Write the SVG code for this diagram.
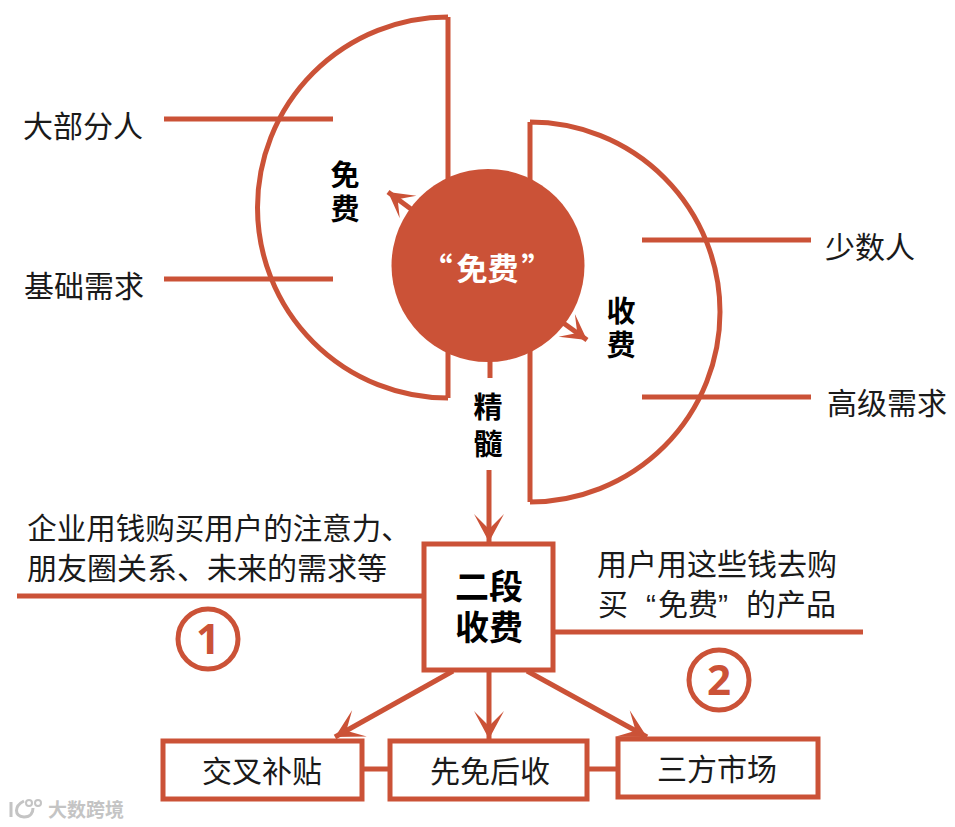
<svg xmlns="http://www.w3.org/2000/svg" width="955" height="827" viewBox="0 0 955 827">
<defs><marker id="a" markerUnits="userSpaceOnUse" markerWidth="40" markerHeight="40" refX="32" refY="20" orient="auto"><path d="M32 20L4 5L19 20L4 35Z" fill="#cb5237"/></marker>
<marker id="s" markerUnits="userSpaceOnUse" markerWidth="40" markerHeight="40" refX="30" refY="20" orient="auto"><path d="M30 20L5 6L18 20L5 34Z" fill="#cb5237"/></marker></defs>
<style>
text{font-family:"Liberation Sans","Noto Sans CJK SC",sans-serif;fill:#1a1a1a;text-anchor:middle}
.l{fill:none;stroke:#cb5237;stroke-width:5}
.b{fill:#fff;stroke:#cb5237;stroke-width:5}
.t{font-size:30px}
.h{font-size:29px;font-weight:700;fill:#000}
.w{fill:none;stroke:#c4c4c4;stroke-width:3}
</style>
<rect width="955" height="827" fill="#fff"/>
<g id="connectors">
<path class="l" d="M448 17V398M448 17A190.5 190.5 0 0 0 448 398"/>
<path class="l" d="M530 122V502M530 122A190 190 0 0 1 530 502"/>
<path class="l" d="M164 119H333M164 279H333M642 240H811M642 397H811"/>
<path class="l" d="M17 596H424M553 632H863"/>
<path class="l" d="M490 355V378"/>
<path class="l" d="M489 470V542" marker-end="url(#a)"/>
<path class="l" d="M415 212L388 192" marker-end="url(#s)"/>
<path class="l" d="M555 317L587 340" marker-end="url(#s)"/>
<path class="l" d="M453 671L335 737" marker-end="url(#a)"/>
<path class="l" d="M489 670V739" marker-end="url(#a)"/>
<path class="l" d="M527 671L647 737" marker-end="url(#a)"/>
<path class="l" d="M362 769H390M587 769H618"/>
</g>
<g id="free-label"><text class="h"><tspan x="345" y="186">免</tspan><tspan x="345" y="219.5">费</tspan></text></g>
<g id="charge-label"><text class="h"><tspan x="621" y="322">收</tspan><tspan x="621" y="356">费</tspan></text></g>
<g id="essence-label"><text class="h"><tspan x="488" y="418">精</tspan><tspan x="488" y="455">髓</tspan></text></g>
<g id="free-circle"><circle cx="488" cy="265.5" r="96.5" fill="#cb5237"/><text x="487" y="280" font-size="31" font-weight="700" style="fill:#fff;font-family:'Noto Sans CJK SC',sans-serif">“<tspan dx="4">免费</tspan><tspan dx="3">”</tspan></text></g>
<g id="most"><text class="t" x="83" y="137">大部分人</text></g>
<g id="basic"><text class="t" x="84" y="297">基础需求</text></g>
<g id="few"><text class="t" x="870" y="258">少数人</text></g>
<g id="premium"><text class="t" x="887" y="414">高级需求</text></g>
<g id="left-note"><text style="font-size:29.5px"><tspan x="219" y="539">企业用钱购买用户的注意力、</tspan><tspan x="207" y="579" style="font-size:30px">朋友圈关系、未来的需求等</tspan></text></g>
<g id="right-note"><text class="t"><tspan x="717" y="575">用户用这些钱去购</tspan><tspan x="717" y="615">买<tspan dx="18">“</tspan><tspan dx="2">免费”</tspan><tspan dx="18">的产品</tspan></tspan></text></g>
<g id="two-stage"><rect class="b" x="424" y="544" width="129" height="126"/><text font-size="34" font-weight="700" style="fill:#000"><tspan x="489" y="599">二段</tspan><tspan x="489" y="640">收费</tspan></text></g>
<g id="n1"><circle class="l" cx="208" cy="639" r="30"/><text x="208" y="654" font-size="42" font-weight="700" style="fill:#cb5237;font-family:'Noto Sans',sans-serif">1</text></g>
<g id="n2"><circle class="l" cx="719" cy="680" r="30"/><text x="719" y="695" font-size="42" font-weight="700" style="fill:#cb5237;font-family:'Noto Sans',sans-serif">2</text></g>
<g id="subsidy"><rect class="b" x="163" y="741" width="199" height="58"/><text class="t" x="262" y="782">交叉补贴</text></g>
<g id="free-first"><rect class="b" x="390" y="741" width="197" height="58"/><text class="t" x="490" y="782">先免后收</text></g>
<g id="third-party"><rect class="b" x="618" y="739" width="200" height="58"/><text class="t" x="717" y="780">三方市场</text></g>
<g id="watermark"><path class="w" d="M11 802V817M24 801C14 806 14 816 24 817C31 817 33 812 33 808"/><circle class="w" cx="29" cy="803" r="3" style="stroke-width:2"/><circle class="w" cx="38" cy="803" r="3" style="stroke-width:2"/><text x="86" y="817" font-size="19" font-weight="700" style="fill:#c4c4c4">大数跨境</text></g>
</svg>
